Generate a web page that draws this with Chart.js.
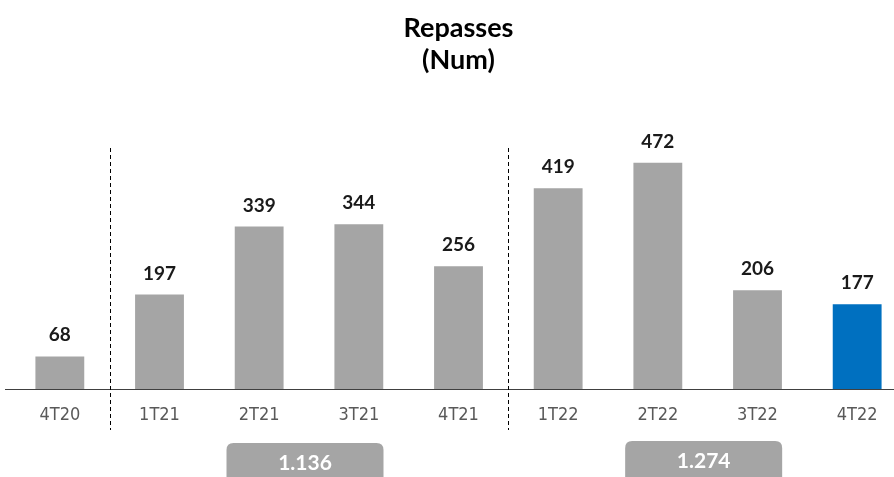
<!DOCTYPE html>
<html>
<head>
<meta charset="utf-8">
<script src="https://cdn.jsdelivr.net/npm/chart.js@4.4.1/dist/chart.umd.min.js"></script>
<style>
  html, body { margin: 0; padding: 0; background: #fff; overflow: hidden; }
  #wrap { width: 907px; height: 477px; }
</style>
</head>
<body>
<div id="wrap"><canvas id="c" width="907" height="477"></canvas></div>
<script>
// Quarterly number of transfers ("repasses")
const quarters = ['4T20', '1T21', '2T21', '3T21', '4T21', '1T22', '2T22', '3T22', '4T22'];
const repasses = [68, 197, 339, 344, 256, 419, 472, 206, 177];
const titleLines = ['Repasses', '(Num)'];
// Yearly groups: first and last index of each year, summed for the totals box
const yearGroups = [[1, 4], [5, 8]];

const barColors = quarters.map((q, i) => i === quarters.length - 1 ? '#0070c0' : '#a5a5a5');

function fmtThousands(n) {
  return String(n).replace(/\B(?=(\d{3})+(?!\d))/g, '.');
}

function roundRect(ctx, x, y, w, h, r) {
  ctx.beginPath();
  ctx.moveTo(x + r, y);
  ctx.lineTo(x + w - r, y);
  ctx.quadraticCurveTo(x + w, y, x + w, y + r);
  ctx.lineTo(x + w, y + h - r);
  ctx.quadraticCurveTo(x + w, y + h, x + w - r, y + h);
  ctx.lineTo(x + r, y + h);
  ctx.quadraticCurveTo(x, y + h, x, y + h - r);
  ctx.lineTo(x, y + r);
  ctx.quadraticCurveTo(x, y, x + r, y);
  ctx.closePath();
}

const decorations = {
  id: 'decorations',
  afterDatasetsDraw(chart) {
    const ctx = chart.ctx;
    const xs = chart.scales.x;
    const area = chart.chartArea;
    const meta = chart.getDatasetMeta(0);
    ctx.save();

    // title
    ctx.fillStyle = '#000';
    ctx.font = 'bold 27px Lato, "Open Sans", sans-serif';
    ctx.textAlign = 'center';
    ctx.textBaseline = 'alphabetic';
    const cx = (area.left + area.right) / 2;
    ctx.fillText(titleLines[0], cx, 37);
    ctx.fillText(titleLines[1], cx, 69);

    // baseline
    ctx.strokeStyle = '#404040';
    ctx.lineWidth = 1.2;
    ctx.beginPath();
    ctx.moveTo(5, area.bottom + 0.5);
    ctx.lineTo(chart.width, area.bottom + 0.5);
    ctx.stroke();

    // value labels
    ctx.fillStyle = '#1a1a1a';
    ctx.font = 'bold 19px Lato, "Open Sans", sans-serif';
    ctx.textBaseline = 'alphabetic';
    meta.data.forEach((bar, i) => {
      ctx.fillText(String(repasses[i]), bar.x, bar.y - 15);
    });

    // year separators
    ctx.strokeStyle = '#000';
    ctx.lineWidth = 1;
    ctx.setLineDash([4, 3]);
    yearGroups.forEach(([a]) => {
      const x = Math.round((xs.getPixelForValue(a - 1) + xs.getPixelForValue(a)) / 2) + 0.5;
      ctx.beginPath();
      ctx.moveTo(x, 148);
      ctx.lineTo(x, 430);
      ctx.stroke();
    });
    ctx.setLineDash([]);

    // yearly totals
    yearGroups.forEach(([a, b], k) => {
      let sum = 0;
      for (let i = a; i <= b; i++) sum += repasses[i];
      const mid = (xs.getPixelForValue(a) + xs.getPixelForValue(b)) / 2 - 4;
      const w = 157, top = k === 0 ? 443 : 441;
      ctx.fillStyle = '#a5a5a5';
      roundRect(ctx, mid - w / 2, top, w, 50, 7);
      ctx.fill();
      ctx.fillStyle = '#fff';
      ctx.font = 'bold 21px Lato, "Open Sans", sans-serif';
      ctx.textAlign = 'center';
      ctx.textBaseline = 'alphabetic';
      ctx.fillText(fmtThousands(sum), mid, top + 27);
    });
    ctx.restore();
  }
};

new Chart(document.getElementById('c'), {
  type: 'bar',
  data: {
    labels: quarters,
    datasets: [{
      data: repasses,
      backgroundColor: barColors,
      borderWidth: 0,
      categoryPercentage: 1,
      barPercentage: 0.49
    }]
  },
  options: {
    responsive: false,
    animation: false,
    layout: { padding: { left: 10, right: 0, top: 89, bottom: 0 } },
    plugins: { legend: { display: false }, tooltip: { enabled: false }, title: { display: false } },
    scales: {
      x: {
        grid: { display: false, drawTicks: false },
        border: { display: false },
        ticks: {
          color: '#595959',
          padding: 16,
          font: { family: '"DejaVu Sans Condensed", "Liberation Sans Narrow", sans-serif', size: 18 }
        },
        afterFit(scale) { scale.height = 88; }
      },
      y: {
        display: false,
        min: 0,
        max: 626
      }
    }
  },
  plugins: [decorations]
});
</script>
</body>
</html>
